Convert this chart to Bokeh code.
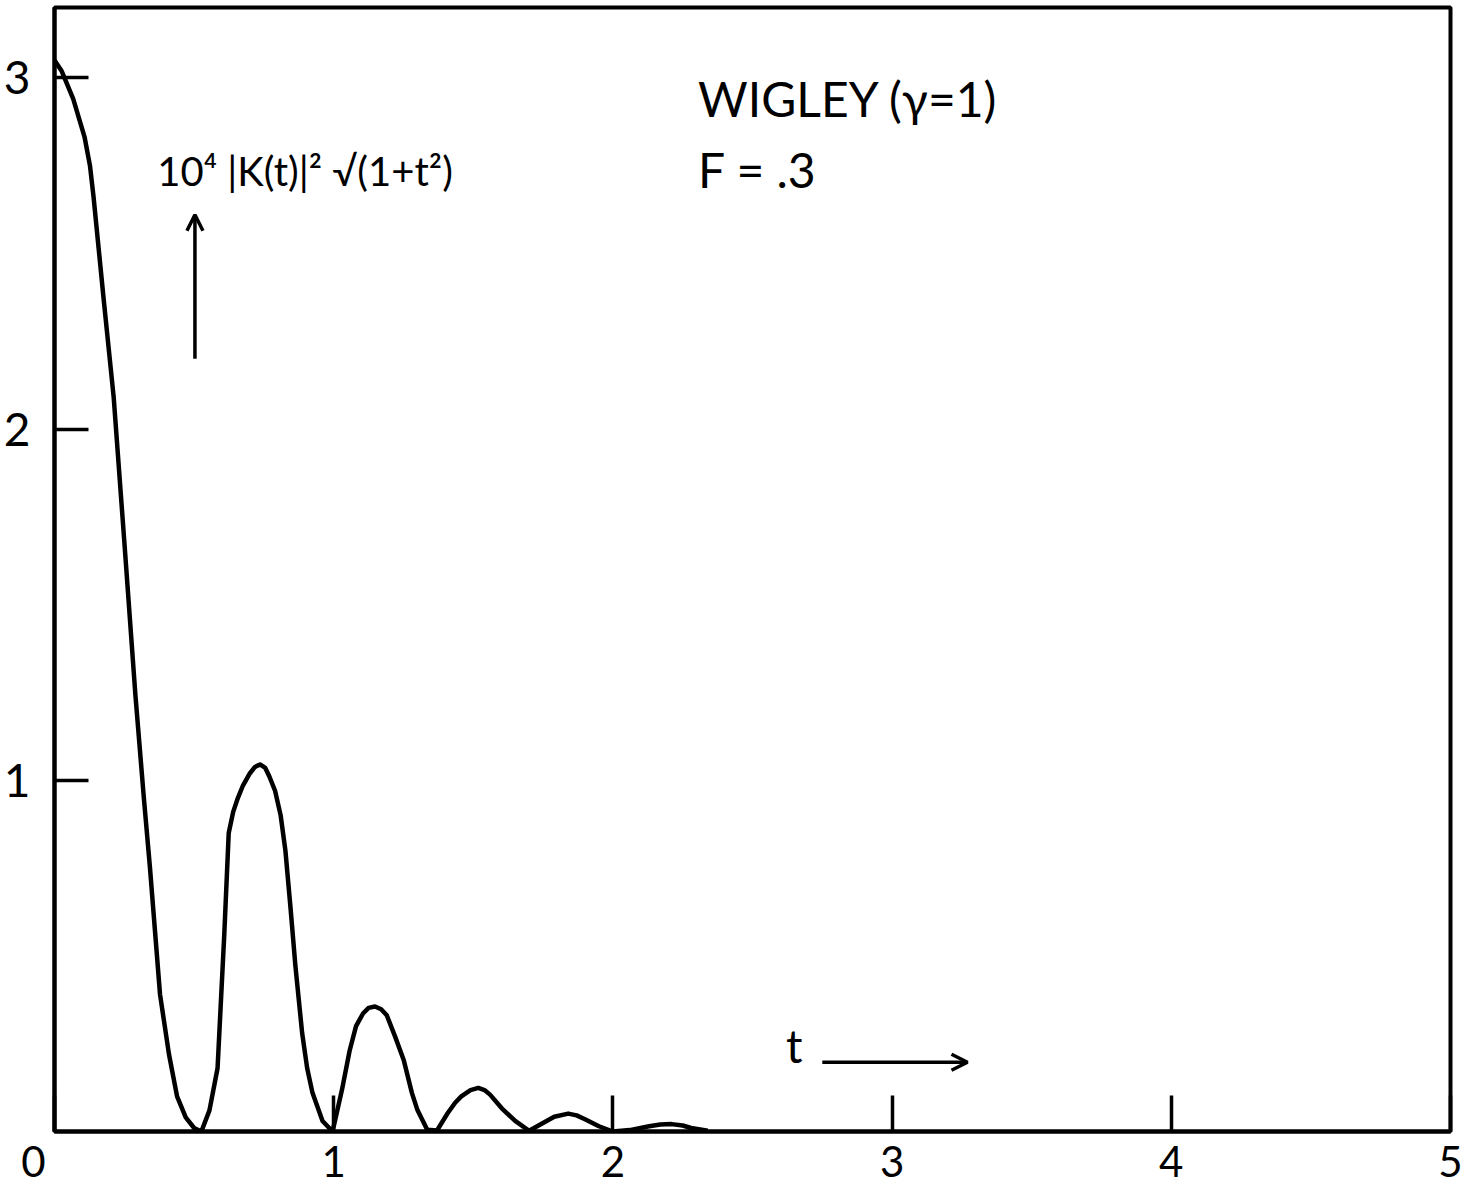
from bokeh.plotting import figure
from bokeh.models import Label, Arrow, OpenHead, FixedTicker, Range1d
from bokeh.embed import file_html
from bokeh.resources import INLINE

# ---- data ----
t_vals = [0.000, 0.025, 0.067, 0.108, 0.127, 0.140, 0.176, 0.212, 0.250, 0.290,
          0.320, 0.342, 0.360, 0.378, 0.410, 0.439, 0.470, 0.500, 0.526, 0.555,
          0.584, 0.596, 0.608, 0.624, 0.640, 0.657, 0.675, 0.700, 0.718, 0.736,
          0.755, 0.770, 0.790, 0.810, 0.827, 0.845, 0.863, 0.887, 0.905, 0.924,
          0.960, 0.996, 1.030, 1.057, 1.080, 1.105, 1.125, 1.148, 1.170, 1.190,
          1.220, 1.251, 1.280, 1.300, 1.335, 1.370, 1.408, 1.435, 1.457, 1.490,
          1.518, 1.540, 1.560, 1.602, 1.650, 1.700, 1.740, 1.790, 1.840, 1.870,
          1.900, 1.950, 2.000, 2.060, 2.130, 2.170, 2.210, 2.250, 2.280, 2.340]
k_vals = [3.050, 3.020, 2.940, 2.830, 2.750, 2.660, 2.370, 2.090, 1.680, 1.240,
          0.950, 0.750, 0.570, 0.390, 0.220, 0.100, 0.040, 0.010, 0.000, 0.060,
          0.180, 0.370, 0.560, 0.850, 0.910, 0.950, 0.985, 1.020, 1.038, 1.045,
          1.035, 1.010, 0.970, 0.900, 0.800, 0.640, 0.470, 0.280, 0.180, 0.110,
          0.030, 0.000, 0.120, 0.230, 0.300, 0.336, 0.352, 0.356, 0.348, 0.331,
          0.270, 0.203, 0.110, 0.061, 0.005, 0.003, 0.052, 0.082, 0.100, 0.118,
          0.124, 0.118, 0.105, 0.066, 0.030, 0.002, 0.020, 0.042, 0.051, 0.046,
          0.035, 0.015, 0.000, 0.004, 0.015, 0.020, 0.021, 0.017, 0.010, 0.002]

x_ticks = [0, 1, 2, 3, 4, 5]
x_tick_labels = {0: "0\u2002\u2002"}   # origin label sits left of the corner
y_ticks = [1, 2, 3]
x_range = (0, 5)
y_range = (0, 3.2)

title_text = "WIGLEY (γ=1)"
froude_text = "F = .3"
ylabel_text = "10⁴ |K(t)|² √(1+t²)"
xlabel_text = "t"

FONT = "Lato"

p = figure(width=1462, height=1188, output_backend="svg", toolbar_location=None,
           x_range=Range1d(*x_range), y_range=Range1d(*y_range),
           min_border_left=53, min_border_right=12, min_border_top=7,
           min_border_bottom=54)
p.grid.visible = False
p.background_fill_color = "white"
p.border_fill_color = "white"
p.outline_line_color = "black"
p.outline_line_width = 4

p.line(t_vals, k_vals, line_color="black", line_width=4.5, line_join="round")

for ax in (p.xaxis[0], p.yaxis[0]):
    ax.axis_line_width = 4
    ax.axis_line_color = "black"
    ax.major_tick_out = 0
    ax.minor_tick_in = 0
    ax.minor_tick_out = 0
    ax.major_tick_line_width = 3.5
    ax.major_tick_line_color = "black"
    ax.major_label_text_font = FONT
    ax.major_label_text_color = "black"

p.xaxis.major_label_text_font_size = "42px"
p.yaxis.major_label_text_font_size = "46px"
p.xaxis.ticker = FixedTicker(ticks=x_ticks)
p.xaxis.major_label_overrides = x_tick_labels
p.yaxis.ticker = FixedTicker(ticks=y_ticks)
p.xaxis.major_tick_in = 36
p.yaxis.major_tick_in = 34
p.xaxis.major_label_standoff = 4
p.yaxis.major_label_standoff = 24

p.add_layout(Label(x=2.305, y=2.86, text=title_text, text_font=FONT,
                   text_font_size="48px", text_color="black"))
p.add_layout(Label(x=2.305, y=2.658, text=froude_text, text_font=FONT,
                   text_font_size="48px", text_color="black"))
p.add_layout(Label(x=0.368, y=2.665, text=ylabel_text, text_font=FONT,
                   text_font_size="40px", text_color="black"))
p.add_layout(Label(x=2.62, y=0.167, text=xlabel_text, text_font=FONT,
                   text_font_size="46px", text_color="black"))

p.add_layout(Arrow(end=OpenHead(size=16, line_width=3.5), x_start=0.503, y_start=2.20,
                   x_end=0.503, y_end=2.61, line_width=3.5))
p.add_layout(Arrow(end=OpenHead(size=16, line_width=3.5), x_start=2.75, y_start=0.197,
                   x_end=3.27, y_end=0.197, line_width=3.5))

open("out.html", "w").write(file_html(p, INLINE))
